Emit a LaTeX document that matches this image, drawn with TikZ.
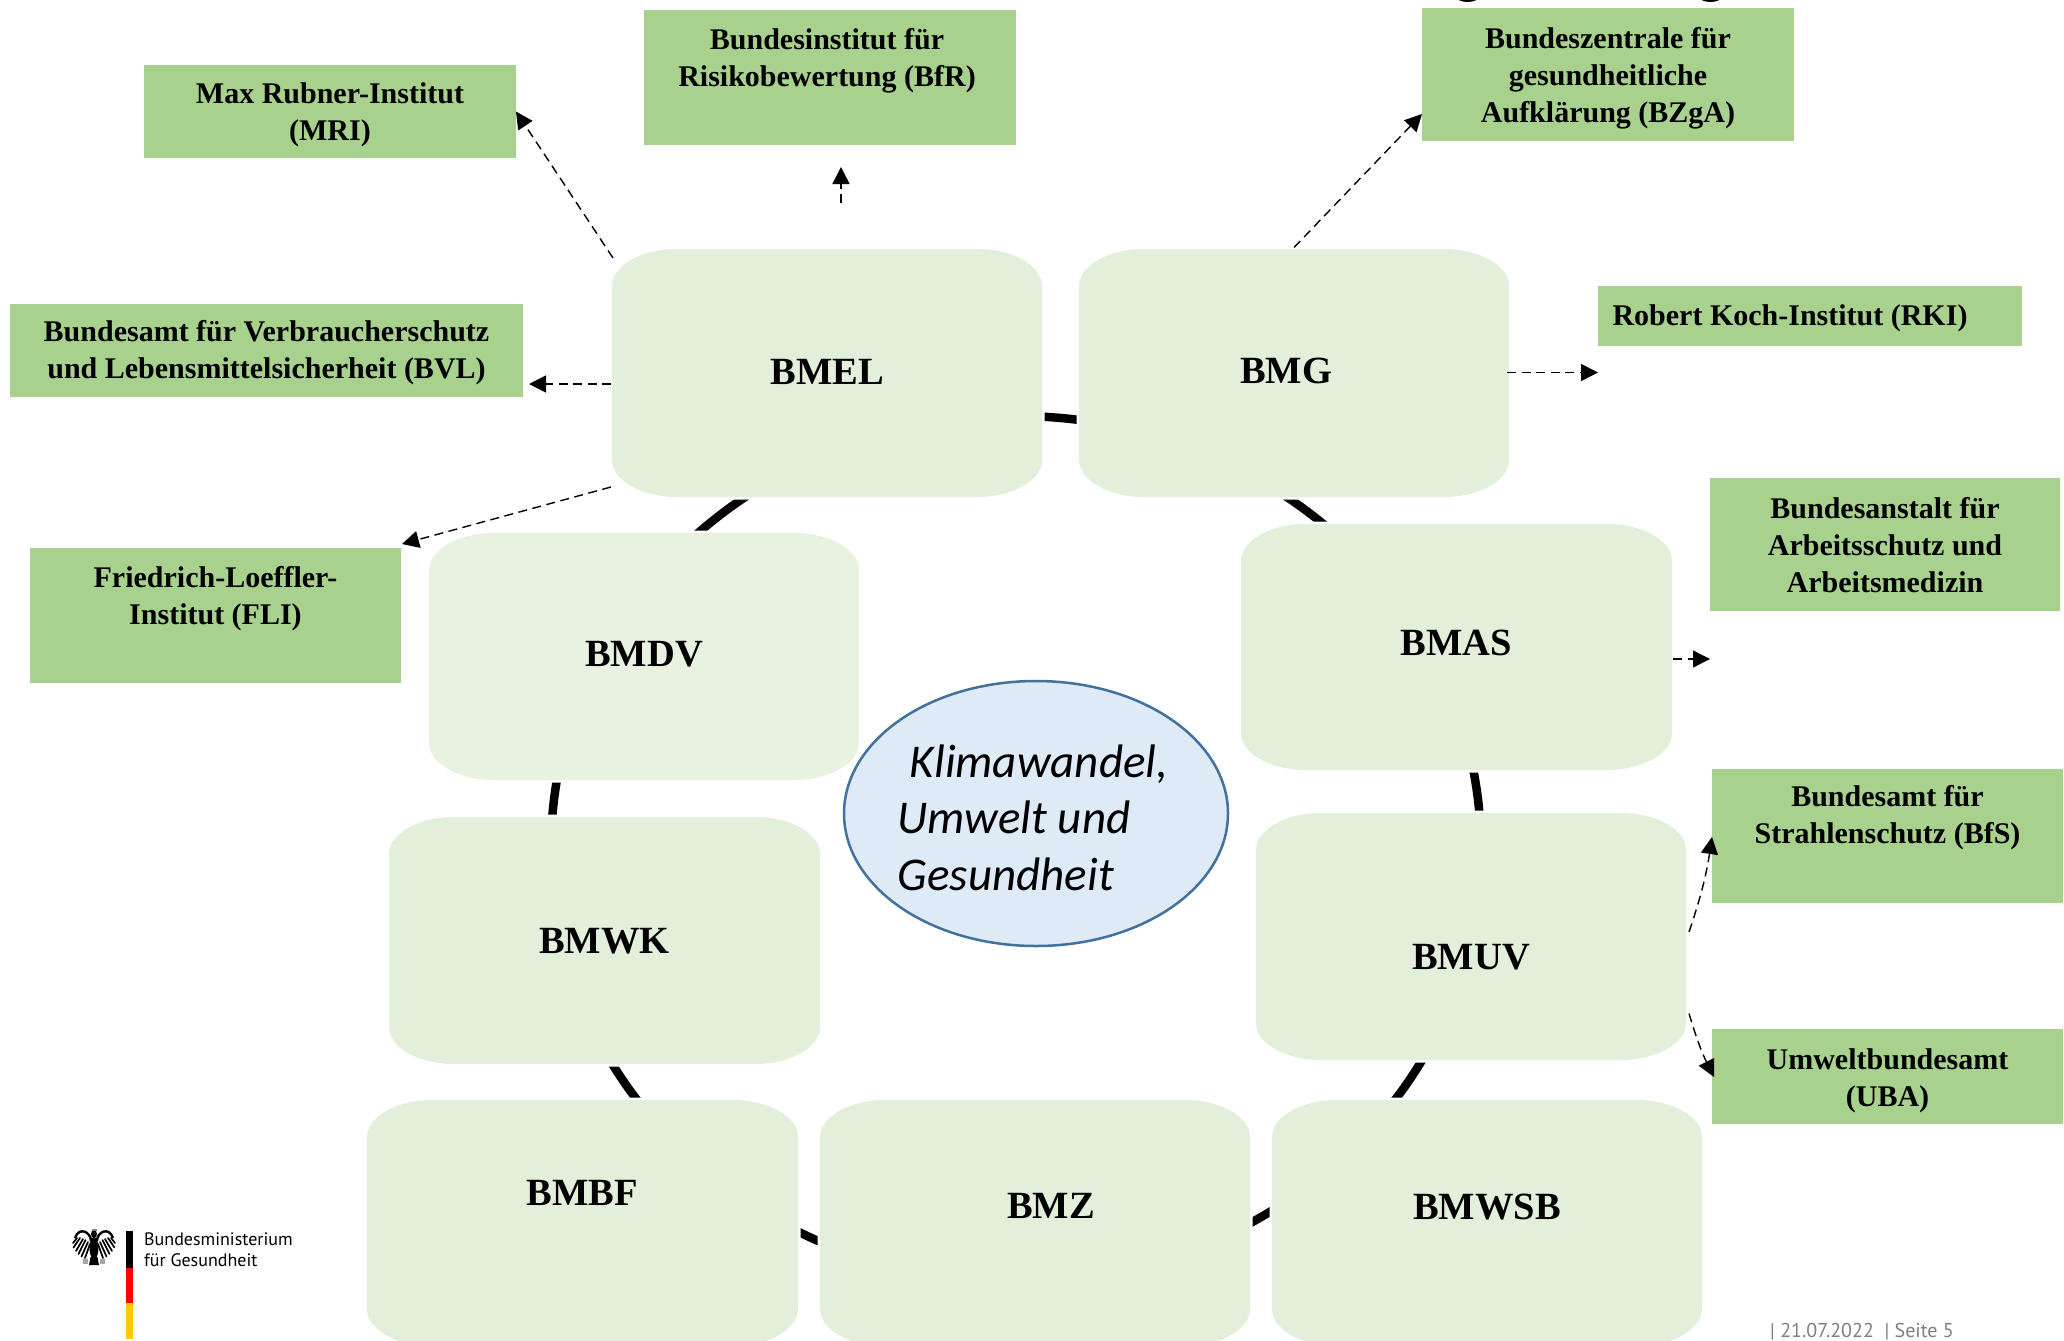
\documentclass[tikz,border=0pt]{standalone}
\usepackage{fontspec}
\setmainfont{Liberation Serif}
\newfontfamily\klimafont{Carlito}
\newfontfamily\logofont{PT Sans}
\usetikzlibrary{arrows.meta,calc,shapes.geometric}
\definecolor{greenbox}{HTML}{A9D18E}
\definecolor{palebox}{HTML}{E2EFDA}
\definecolor{palerbox}{HTML}{E8F2E1}
\definecolor{ellfill}{HTML}{DEEAF6}
\definecolor{ellline}{HTML}{41719C}
\definecolor{footgray}{HTML}{7F7F7F}
\definecolor{flagred}{HTML}{FF0000}
\definecolor{flaggold}{HTML}{FFCC00}
\tikzset{
  x=1pt,y=-1pt,
  frame/.style={rectangle,inner sep=0pt,outer sep=0pt},
  greentext/.style={align=center,text=black,font=\fontsize{30}{37}\selectfont\bfseries},
  paletext/.style={text=black,font=\fontsize{38.5}{44}\selectfont\bfseries},
  dep/.style={line width=1.4pt,dash pattern=on 9pt off 5.5pt,-{Triangle[length=17pt,width=17pt]}},
  ringline/.style={line width=8.5pt,black},
}
% name, x0, y0, x1, y1, label shift keys, text
\newcommand\greenrect[7]{%
  \pgfmathsetmacro\gw{#4-#2}\pgfmathsetmacro\gh{#5-#3}%
  \pgfmathsetmacro\gx{(#2+#4)/2}\pgfmathsetmacro\gy{(#3+#5)/2}%
  \node[frame,fill=greenbox,minimum width=\gw pt,minimum height=\gh pt,
        label={[greentext,#6]center:{#7}}] (#1) at (\gx,\gy) {};
}
% colour, name, x0, y0, x1, y1, xshift, yshift(up), text
\newcommand\rounded[9]{%
  \pgfmathsetmacro\rx{65}\pgfmathsetmacro\ry{37}%
  \pgfmathsetmacro\kx{\rx*0.45}\pgfmathsetmacro\ky{\ry*0.45}%
  \def\roundedpath{(#3,#4+\ry) .. controls (#3,#4+\ky) and (#3+\kx,#4) .. (#3+\rx,#4)
    -- (#5-\rx,#4) .. controls (#5-\kx,#4) and (#5,#4+\ky) .. (#5,#4+\ry)
    -- (#5,#6-\ry) .. controls (#5,#6-\ky) and (#5-\kx,#6) .. (#5-\rx,#6)
    -- (#3+\rx,#6) .. controls (#3+\kx,#6) and (#3,#6-\ky) .. (#3,#6-\ry) -- cycle}%
  \draw[white,line width=5pt] \roundedpath;
  \fill[#1] \roundedpath;
  \pgfmathsetmacro\gw{#5-#3}\pgfmathsetmacro\gh{#6-#4}%
  \pgfmathsetmacro\gx{(#3+#5)/2}\pgfmathsetmacro\gy{(#4+#6)/2}%
  \node[frame,minimum width=\gw pt,minimum height=\gh pt,
        label={[paletext,xshift=#7pt,yshift=#8pt]center:{#9}}] (#2) at (\gx,\gy) {};
}
\begin{document}
\begin{tikzpicture}
\useasboundingbox (0,0) rectangle (2064,1341);
\begin{scope}
\clip (0,0) rectangle (2064,1341);
\fill[white] (0,0) rectangle (2064,1341);

% cropped marks along the top edge
\fill[black] (1467.5,-3) ellipse [x radius=11,y radius=5];
\fill[black] (1710.5,-3) ellipse [x radius=11,y radius=5];

% ring behind the ministries
\coordinate (ringcentre) at (1016,849);
\draw[ringline] (ringcentre) ellipse [x radius=465,y radius=433];

% ministries
\rounded{palebox}{BMEL}{612}{249}{1042}{497}{0}{1}{BMEL}
\rounded{palebox}{BMG}{1079}{249}{1509}{497}{-8}{2}{BMG}
\rounded{palebox}{BMAS}{1241}{524}{1672}{770}{0}{4}{BMAS}
\rounded{palebox}{BMUV}{1256}{813}{1686}{1060}{0}{-21}{BMUV}
\rounded{palebox}{BMWSB}{1272}{1100}{1702}{1346}{0}{16}{BMWSB}
\rounded{palebox}{BMZ}{820}{1100}{1250}{1346}{16}{17}{BMZ}
\rounded{palebox}{BMBF}{367}{1100}{798}{1346}{0}{30}{BMBF}
\rounded{palebox}{BMWK}{389}{817}{820}{1064}{0}{-1}{BMWK}
\rounded{palerbox}{BMDV}{429}{533}{859}{780}{0}{2}{BMDV}

% agencies
\greenrect{MRI}{144}{65}{516}{158}{yshift=-3.5pt}{Max Rubner-Institut\\(MRI)}
\greenrect{BfR}{644}{10}{1016}{145}{xshift=-3pt,yshift=16.5pt}{Bundesinstitut für\\Risikobewertung (BfR)}
\greenrect{BZgA}{1422}{8}{1794}{141}{yshift=-3.5pt}{Bundeszentrale für\\gesundheitliche\\Aufklärung (BZgA)}
\greenrect{RKI}{1598}{286}{2022}{346}{xshift=-20pt,yshift=-2.5pt}{Robert Koch-Institut (RKI)}
\greenrect{BVL}{10}{304}{523}{397}{yshift=-2.5pt}{Bundesamt für Verbraucherschutz\\und Lebensmittelsicherheit (BVL)}
\greenrect{FLI}{30}{548}{401}{683}{yshift=16.5pt}{Friedrich-Loeffler-\\Institut (FLI)}
\greenrect{BAuA}{1710}{478}{2060}{611}{yshift=-1pt}{Bundesanstalt für\\Arbeitsschutz und\\Arbeitsmedizin}
\greenrect{BfS}{1712}{769}{2063}{903}{yshift=18.5pt}{Bundesamt für\\Strahlenschutz (BfS)}
\greenrect{UBA}{1712}{1029}{2063}{1124}{yshift=-4pt}{Umweltbundesamt\\(UBA)}

% centre ellipse
\node[ellipse,draw=ellline,fill=ellfill,line width=2.5pt,inner sep=0pt,
      minimum width=384pt,minimum height=265pt,
      label={[align=left,text=black,xshift=-3pt,yshift=-4pt,
              font=\klimafont\itshape\fontsize{47}{56.5}\selectfont]center:{\hspace*{12pt}Klimawandel,\\Umwelt und\\Gesundheit}}]
      (klima) at (1036,813.5) {};

% dashed arrows
\draw[dep] ($(BMEL.north west)+(1,9)$) -- (MRI.east);
\draw[dep] ($(BfR.south)+(11,58)$) -- ($(BfR.south)+(11,22)$);
\draw[dep] ($(BMEL.west)+(-1,11)$) -- ($(BVL.south east)+(6,-13)$);
\draw[dep] ($(BMEL.south west)+(-1,-10)$) -- ($(FLI.north east)+(1,-4)$);
\draw[dep] ($(BMG.north west)+(215,-1.5)$) -- ($(BZgA.south west)+(0,-27)$);
\draw[dep] ($(BMG.east)+(-2,-0.5)$) -- ($(RKI.south west)+(0,26.5)$);
\draw[dep] ($(BMAS.east)+(1,12)$) -- ($(BAuA.south west)+(0,48)$);
\draw[dep] ($(BMUV.east)+(3,-4.5)$) to[bend right=5] ($(BfS.west)+(0,1)$);
\draw[dep] ($(BMUV.east)+(3,77)$) to[bend right=5] ($(UBA.west)+(2,0.5)$);

% logo
\fill[black] (126,1231) rectangle (133,1268);
\fill[flagred] (126,1268) rectangle (133,1303);
\fill[flaggold] (126,1303) rectangle (133,1339);
\begin{scope}[shift={(94,1247)}]
  \fill[black] (0,1) ellipse [x radius=4.5,y radius=11];
  \fill[black] (-3.5,10) -- (3.5,10) -- (5,18) -- (-5,18) -- cycle;
  \fill[black] (0,-13) ellipse [x radius=3,y radius=4];
  \fill[gray] (-2,-18.5) rectangle (3,-16);
  \fill[gray!70] (-11,12) rectangle (-6,17);
  \fill[gray!70] (6,12) rectangle (11,17);
  \foreach \s in {1,-1}{
    \draw[black,line width=2.4pt] (\s*3,-6) .. controls (\s*3,-15) and (\s*15,-21) .. (\s*19,-9);
    \foreach \ax/\ay/\tx/\ty in {4/-3/9/11,6/-5/12.5/9.5,8.5/-7/15.5/7,11/-8/18/4,14/-9/20.5/0.5,17/-9/21/-4}{
      \draw[black,line width=1.7pt,line cap=round] (\s*\ax,\ay) -- (\s*\tx,\ty);
    }
  }
\end{scope}
\node[anchor=west,inner sep=0pt,align=left,text=black,
      font=\logofont\fontsize{18}{21}\selectfont] (logotext) at (144,1249.5) {Bundesministerium\\für Gesundheit};

% footer
\node[anchor=west,inner sep=0pt,text=footgray,font=\logofont\fontsize{20}{24}\selectfont]
  (footer) at (1770,1332) {|\ 21.07.2022\ \ |\ Seite 5};
\end{scope}
\end{tikzpicture}
\end{document}
